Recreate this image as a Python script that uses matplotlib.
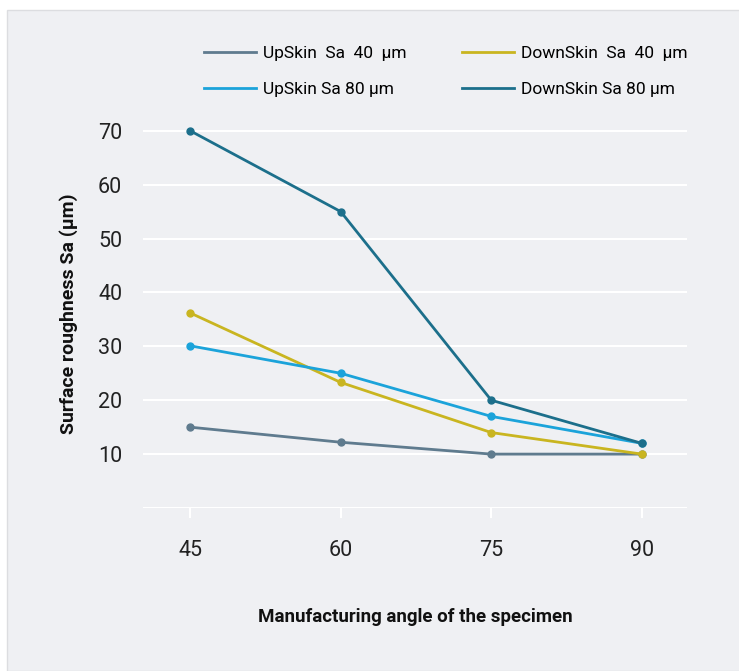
import matplotlib.pyplot as plt
from matplotlib.patches import Rectangle

plt.rcParams['font.family'] = ['Roboto', 'DejaVu Sans']

angles = [45, 60, 75, 90]
upskin_40 = [15.0, 12.2, 10.0, 10.0]
downskin_40 = [36.2, 23.3, 14.0, 10.0]
upskin_80 = [30.1, 25.0, 17.0, 12.0]
downskin_80 = [70.0, 55.0, 20.0, 12.0]

y_ticks = [10, 20, 30, 40, 50, 60, 70]

series = [
    ("UpSkin  Sa  40  µm", upskin_40, "#5f7b8e"),
    ("UpSkin Sa 80 µm", upskin_80, "#1ba3da"),
    ("DownSkin  Sa  40  µm", downskin_40, "#c9b520"),
    ("DownSkin Sa 80 µm", downskin_80, "#1c6f8b"),
]
# draw order so DownSkin 80 sits on top
draw_order = [0, 2, 1, 3]

fig = plt.figure(figsize=(7.39, 6.71), dpi=100)
fig.patch.set_facecolor("white")
panel = Rectangle((7 / 739, 0), 1, 1 - 10 / 671, transform=fig.transFigure,
                  facecolor="#eff0f3", edgecolor="#dcdde0", lw=1, zorder=-5)
fig.patches.append(panel)

ax = fig.add_axes([143 / 739, 163 / 671, 544 / 739, 388 / 671])
ax.set_facecolor("none")
ax.set_zorder(2)

handles = {}
for i in draw_order:
    label, vals, col = series[i]
    h, = ax.plot(angles, vals, color=col, lw=2, marker="o", markersize=5, label=label, zorder=3)
    handles[i] = h

ax.set_xlim(40.3, 94.5)
ax.set_ylim(0, 72)
ax.set_xticks(angles)
ax.set_yticks([0] + y_ticks)
ax.set_yticklabels([""] + [str(t) for t in y_ticks])
ax.grid(axis="y", color="white", lw=1.5, zorder=1)
ax.set_axisbelow(True)
for s in ax.spines.values():
    s.set_visible(False)
ax.tick_params(axis="y", length=0, pad=15, labelsize=15.5, labelcolor="#222222")
ax.tick_params(axis="x", length=7, width=1.5, color="white", pad=16, labelsize=15.5,
               labelcolor="#222222")

ax.set_xlabel("Manufacturing angle of the specimen", fontsize=13.5, fontweight="bold",
              labelpad=34, color="#111111")
ax.set_ylabel("Surface roughness Sa (µm)", fontsize=14, fontweight="bold",
              labelpad=14, color="#111111")

leg = fig.legend([handles[i] for i in range(4)], [series[i][0] for i in range(4)],
                 ncol=2, loc="upper left", bbox_to_anchor=(188 / 739, 1 - 30 / 671),
                 frameon=False, fontsize=12.5, handlelength=3.0, handletextpad=0.4,
                 columnspacing=3.2, labelspacing=1.2)
for lh in leg.get_lines():
    lh.set_marker("")

fig.savefig("out.png", dpi=100)
